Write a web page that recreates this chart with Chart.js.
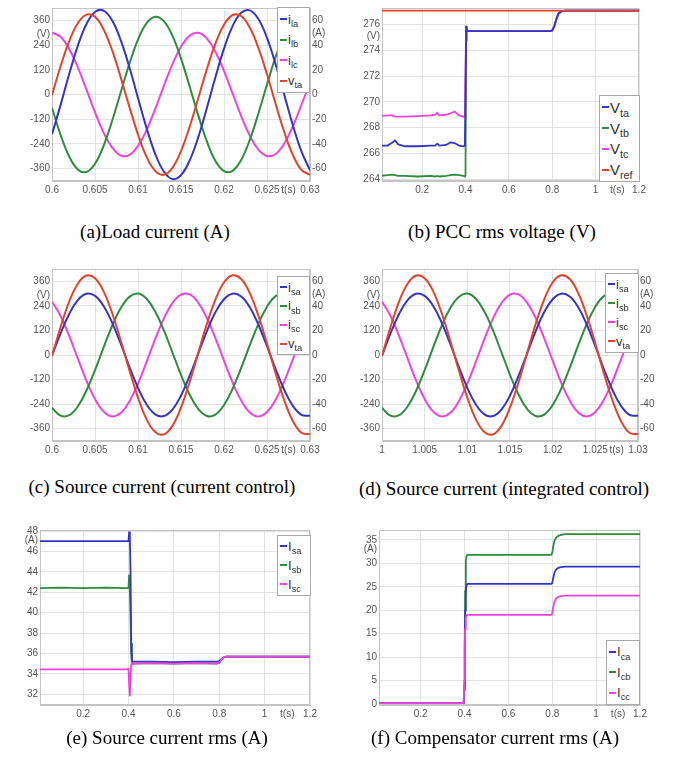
<!DOCTYPE html>
<html><head><meta charset="utf-8">
<script src="https://cdn.jsdelivr.net/npm/chart.js@4.4.1/dist/chart.umd.min.js"></script>
<style>
html,body{margin:0;padding:0;background:#fff;}
body{width:683px;height:770px;position:relative;overflow:hidden;}
.panel{position:absolute;}
.cap{position:absolute;width:400px;text-align:center;font-family:'Liberation Serif','Times New Roman',serif;font-size:19px;line-height:22px;color:#000;white-space:nowrap;}
.lg{position:absolute;background:#fff;border:1px solid #a8a8a8;box-sizing:border-box;display:flex;flex-direction:column;justify-content:space-around;padding:1px 0 1px 2px;font-family:'Liberation Sans',Arial,sans-serif;color:#333;}
.lg .row{display:flex;align-items:center;white-space:nowrap;line-height:1;}
.lg .mk{display:inline-block;width:7px;height:2px;margin-right:1px;}
.lg sub{font-size:0.72em;position:relative;top:0.35em;vertical-align:baseline;}
</style></head><body>

<canvas id="ca" class="panel" width="340" height="200" style="left:0;top:0"></canvas>
<canvas id="cb" class="panel" width="343" height="200" style="left:340px;top:0"></canvas>
<canvas id="cc" class="panel" width="340" height="200" style="left:0;top:260px"></canvas>
<canvas id="cd" class="panel" width="343" height="200" style="left:340px;top:260px"></canvas>
<canvas id="ce" class="panel" width="340" height="210" style="left:0;top:520px"></canvas>
<canvas id="cf" class="panel" width="343" height="210" style="left:340px;top:520px"></canvas>

<div class="cap" style="left:-45px;top:221px">(a)Load current (A)</div>
<div class="cap" style="left:302px;top:221px">(b) PCC rms voltage (V)</div>
<div class="cap" style="left:-38px;top:476px">(c) Source current (current control)</div>
<div class="cap" style="left:304px;top:478px">(d) Source current (integrated control)</div>
<div class="cap" style="left:-33px;top:727px">(e) Source current rms (A)</div>
<div class="cap" style="left:295px;top:727px">(f) Compensator current rms (A)</div>

<script>
// ---------- data ----------
const colBlue = '#3535c4', colGreen = '#2f8c3c', colMag = '#ee44dd', colRed = '#e0442c';

// (a) load current, t = 0.600 ... 0.630 s
const waveTimeA = [0.600,0.601,0.602,0.603,0.604,0.605,0.606,0.607,0.608,0.609,0.610,0.611,0.612,0.613,0.614,0.615,0.616,0.617,0.618,0.619,0.620,0.621,0.622,0.623,0.624,0.625,0.626,0.627,0.628,0.629,0.630];
const iLa = [-32.2,-8.4,16.6,39.4,56.9,66.8,67.8,59.8,43.8,22.0,-2.9,-27.2,-48.0,-62.3,-68.4,-65.3,-53.5,-34.7,-11.1,13.9,37.1,55.3,66.1,68.1,61.1,45.8,24.5,-0.1,-24.7,-46.0,-61.2];
const iLb = [-10.7,-32.7,-50.2,-60.6,-62.7,-56.0,-41.5,-21.2,2.0,24.9,44.4,57.7,62.9,59.4,47.6,29.2,6.7,-16.7,-37.8,-53.7,-62.0,-61.8,-52.9,-36.7,-15.4,8.1,30.4,48.5,59.9,62.9,57.1];
const iLc = [50.0,46.7,36.9,22.1,4.2,-14.3,-30.8,-43.0,-49.4,-48.9,-41.6,-28.7,-11.8,6.8,24.4,38.6,47.6,49.9,45.4,34.6,19.1,0.9,-17.4,-33.3,-44.6,-49.8,-48.1,-39.7,-25.9,-8.5,10.1];
const vTaA = [-3,137,259,346,388,377,316,214,82,-60,-194,-303,-371,-390,-356,-275,-157,-19,122,247,339,386,381,325,226,98,-45,-181,-293,-366,-390];

// (c)/(d) source current
const waveTimeD = [1.000,1.001,1.002,1.003,1.004,1.005,1.006,1.007,1.008,1.009,1.010,1.011,1.012,1.013,1.014,1.015,1.016,1.017,1.018,1.019,1.020,1.021,1.022,1.023,1.024,1.025,1.026,1.027,1.028,1.029,1.030];
const iSa = [-0.6,17.6,33.4,44.7,49.8,48.1,39.9,26.2,9.0,-9.6,-26.7,-40.3,-48.3,-49.7,-44.4,-33.0,-17.0,1.2,19.3,34.8,45.4,49.9,47.6,38.8,24.6,7.2,-11.4,-28.3,-41.3,-48.7,-49.5];
const iSb = [-43.0,-49.4,-49.0,-41.9,-29.1,-12.3,6.2,23.8,38.2,47.3,50.0,45.8,35.4,20.2,2.2,-16.1,-32.2,-43.9,-49.6,-48.5,-40.8,-27.5,-10.5,8.0,25.4,39.3,47.9,49.9,45.1,34.1,18.5];
const iSc = [43.6,31.8,15.6,-2.8,-20.8,-35.9,-46.1,-50.0,-47.1,-37.8,-23.3,-5.6,12.9,29.6,42.2,49.1,49.3,42.7,30.3,13.8,-4.6,-22.4,-37.1,-46.8,-50.0,-46.4,-36.5,-21.6,-3.8,14.6,31.0];
const vTaS = [-5,137,261,348,388,375,311,204,70,-74,-208,-314,-376,-388,-346,-257,-133,9,151,271,354,389,371,302,192,56,-89,-220,-322,-380,-386];

// (b) PCC rms voltage
const pccTime = [0.01,0.04,0.06,0.075,0.09,0.12,0.18,0.24,0.26,0.27,0.28,0.31,0.33,0.35,0.37,0.39,0.397,0.400,0.403,0.406,0.41,0.45,0.6,0.79,0.80,0.81,0.82,0.83,0.845,0.86,0.9,1.0,1.2];
const vTa = [266.6,266.6,266.8,267.0,266.7,266.55,266.55,266.6,266.6,266.75,266.6,266.65,266.85,266.8,266.6,266.55,266.6,270.5,275.9,275.6,275.5,275.5,275.5,275.5,275.55,275.9,276.5,276.9,277.05,277.1,277.1,277.1,277.1];
const vTb = [264.25,264.3,264.35,264.3,264.25,264.25,264.2,264.25,264.2,264.25,264.2,264.25,264.3,264.35,264.3,264.25,264.2,264.3,274.8,275.6,275.5,275.5,275.5,275.5,275.55,275.9,276.5,276.9,277.05,277.1,277.1,277.1,277.1];
const vTc = [268.9,268.95,268.95,268.85,268.85,268.85,268.9,268.95,269.0,269.15,268.95,269.0,269.1,269.25,268.95,268.85,268.9,272.5,275.7,275.6,275.5,275.5,275.5,275.5,275.55,275.9,276.5,276.9,277.05,277.1,277.1,277.1,277.1];
const vRef = [277.1,277.1,277.1,277.1,277.1,277.1,277.1,277.1,277.1,277.1,277.1,277.1,277.1,277.1,277.1,277.1,277.1,277.1,277.1,277.1,277.1,277.1,277.1,277.1,277.1,277.1,277.1,277.1,277.1,277.1,277.1,277.1,277.1];

// (e) source current rms
const srcTime = [0.01,0.1,0.2,0.3,0.39,0.400,0.403,0.406,0.409,0.412,0.415,0.42,0.5,0.6,0.7,0.79,0.80,0.81,0.82,0.83,0.85,0.9,1.0,1.2];
const iSaRms = [47.0,47.0,47.0,47.0,47.0,47.0,47.95,47.3,44.0,37.0,35.3,35.2,35.2,35.15,35.2,35.2,35.25,35.45,35.6,35.7,35.7,35.7,35.7,35.7];
const iSbRms = [42.4,42.45,42.4,42.45,42.4,42.45,43.7,42.2,39.5,36.0,35.0,35.0,35.05,35.0,35.05,35.0,35.1,35.4,35.6,35.7,35.7,35.7,35.7,35.7];
const iScRms = [34.45,34.45,34.45,34.45,34.45,34.5,33.0,31.8,34.0,34.9,35.0,35.0,35.05,35.0,35.05,35.0,35.1,35.4,35.6,35.7,35.7,35.7,35.7,35.7];

// (f) compensator current rms
const compTime = [0.01,0.2,0.396,0.399,0.401,0.403,0.406,0.41,0.415,0.5,0.6,0.7,0.795,0.80,0.805,0.81,0.815,0.82,0.83,0.84,0.86,0.9,1.0,1.2];
const iCa = [0.2,0.2,0.2,3,12,20,24.5,25.5,25.6,25.6,25.6,25.6,25.6,25.8,27.0,28.0,28.5,28.8,29.1,29.2,29.3,29.3,29.3,29.3];
const iCb = [0.2,0.2,0.2,4,14,24,30.5,31.7,31.8,31.8,31.8,31.8,31.8,32.2,33.8,34.8,35.3,35.6,35.9,36.05,36.2,36.2,36.2,36.2];
const iCc = [0.2,0.2,0.2,5,12,16,18.5,18.9,19.0,19.0,19.0,19.0,19.0,19.3,20.8,21.8,22.3,22.6,22.9,23.0,23.1,23.1,23.1,23.1];

// tick labels
const waveTicksA = [0.6,0.605,0.61,0.615,0.62,0.625,0.63];
const waveTicksD = [1,1.005,1.01,1.015,1.02,1.025,1.03];
const voltTicks = [-360,-240,-120,0,120,240,360];
const ampTicks = [-60,-40,-20,0,20,40,60];
const rmsTimeTicks = [0.2,0.4,0.6,0.8,1,1.2];
const pccTicks = [264,266,268,270,272,274,276];
const srcRmsTicks = [32,34,36,38,40,42,44,46,48];
const compTicks = [0,5,10,15,20,25,30,35];

// ---------- helpers ----------
const FONT = {family:"'Liberation Sans', Arial, sans-serif", size:10};
const TICKCOL = '#555';
const GRIDCOL = '#e3e3e3';

const framePlugin = {
  id:'frame',
  beforeDatasetsDraw(chart){
    const a = chart.chartArea, c = chart.ctx;
    c.save(); c.strokeStyle = '#c4c4c4'; c.lineWidth = 1;
    c.strokeRect(Math.round(a.left)+0.5, Math.round(a.top)+0.5, Math.round(a.width)-1, Math.round(a.height)-1);
    c.restore();
  }
};

function tickBuilder(values, extras){
  return function(scale){
    const all = values.map(v => ({value:v}));
    (extras||[]).forEach(e => all.push({value:e[0], extra:e[1]}));
    all.sort((p,q) => p.value - q.value);
    scale.ticks = all;
  };
}
function axis(o){
  return {
    type:'linear', position:o.pos, min:o.min, max:o.max,
    afterBuildTicks: tickBuilder(o.ticks, o.extra),
    afterFit: s => { if (o.w !== undefined) s.width = o.w; if (o.h !== undefined) s.height = o.h; },
    ticks:{autoSkip:false, maxRotation:0, minRotation:0, padding:o.pad===undefined?2:o.pad, color:TICKCOL, font:FONT,
      callback:(v,i,t) => (t[i] && t[i].extra) ? t[i].extra : String(v)},
    grid:{display:o.grid!==false, drawTicks:false, lineWidth:1,
      color: ctx => (ctx.tick && ctx.tick.extra) ? 'rgba(0,0,0,0)' : GRIDCOL},
    border:{display:true, color:'#c4c4c4'}
  };
}
function build(id, cfg){
  const datasets = cfg.series.map((s,i) => ({
    data: s.t.map((t,k) => ({x:t, y:s.v[k]})),
    borderColor:s.c, borderWidth:cfg.lw, pointRadius:0, tension:cfg.tension, fill:false,
    yAxisID: s.ax || 'y', order:i
  }));
  const scales = {x: cfg.x, y: cfg.y};
  if (cfg.y1) scales.y1 = cfg.y1;
  new Chart(document.getElementById(id), {
    type:'line',
    data:{datasets},
    options:{responsive:false, animation:false, devicePixelRatio:1, events:[],
      layout:{padding:{top:cfg.pt, right:cfg.pr||0, left:0, bottom:0}},
      plugins:{legend:{display:false}, tooltip:{enabled:false}},
      scales},
    plugins:[framePlugin]
  });
}
function legend(left, top, w, h, fs, items){
  const d = document.createElement('div');
  d.className = 'lg';
  d.style.cssText = `left:${left}px;top:${top}px;width:${w}px;height:${h}px;font-size:${fs}px;`;
  items.forEach(it => {
    const r = document.createElement('div'); r.className = 'row';
    r.innerHTML = `<span class="mk" style="background:${it[0]}"></span><span>${it[1]}<sub>${it[2]}</sub></span>`;
    d.appendChild(r);
  });
  document.body.appendChild(d);
}

// ---------- (a) ----------
build('ca', {pt:7, lw:2, tension:0.4,
  series:[{t:waveTimeA,v:vTaA,c:colRed},{t:waveTimeA,v:iLa,c:colBlue,ax:'y1'},{t:waveTimeA,v:iLb,c:colGreen,ax:'y1'},{t:waveTimeA,v:iLc,c:colMag,ax:'y1'}],
  x: axis({pos:'bottom', min:0.6, max:0.63, ticks:waveTicksA, extra:[[0.6275,'t(s)']], h:19, pad:3}),
  y: axis({pos:'left', min:-420, max:420, ticks:voltTicks, extra:[[291,'(V)']], w:52}),
  y1: axis({pos:'right', min:-70, max:70, ticks:ampTicks, extra:[[49.5,'(A)']], w:30, grid:false})
});
// ---------- (b) ----------
build('cb', {pt:7, pr:44, lw:1.8, tension:0,
  series:[{t:pccTime,v:vRef,c:colRed},{t:pccTime,v:vTa,c:colBlue},{t:pccTime,v:vTc,c:colMag},{t:pccTime,v:vTb,c:colGreen}],
  x: axis({pos:'bottom', min:0.015, max:1.2, ticks:rmsTimeTicks, extra:[[1.1,'t(s)']], h:19, pad:3}),
  y: axis({pos:'left', min:263.85, max:277.3, ticks:pccTicks, extra:[[275.1,'(V)']], w:42})
});
// ---------- (c) ----------
build('cc', {pt:9, lw:2, tension:0.4,
  series:[{t:waveTimeA,v:vTaS,c:colRed},{t:waveTimeA,v:iSa,c:colBlue,ax:'y1'},{t:waveTimeA,v:iSb,c:colGreen,ax:'y1'},{t:waveTimeA,v:iSc,c:colMag,ax:'y1'}],
  x: axis({pos:'bottom', min:0.6, max:0.63, ticks:waveTicksA, extra:[[0.6275,'t(s)']], h:19, pad:3}),
  y: axis({pos:'left', min:-420, max:420, ticks:voltTicks, extra:[[291,'(V)']], w:52}),
  y1: axis({pos:'right', min:-70, max:70, ticks:ampTicks, extra:[[49.5,'(A)']], w:30, grid:false})
});
// ---------- (d) ----------
build('cd', {pt:9, lw:2, tension:0.4,
  series:[{t:waveTimeD,v:vTaS,c:colRed},{t:waveTimeD,v:iSa,c:colBlue,ax:'y1'},{t:waveTimeD,v:iSb,c:colGreen,ax:'y1'},{t:waveTimeD,v:iSc,c:colMag,ax:'y1'}],
  x: axis({pos:'bottom', min:1.0, max:1.03, ticks:waveTicksD, extra:[[1.0275,'t(s)']], h:19, pad:3}),
  y: axis({pos:'left', min:-420, max:420, ticks:voltTicks, extra:[[291,'(V)']], w:42}),
  y1: axis({pos:'right', min:-70, max:70, ticks:ampTicks, extra:[[49.5,'(A)']], w:45, grid:false})
});
// ---------- (e) ----------
build('ce', {pt:10, pr:30, lw:1.8, tension:0,
  series:[{t:srcTime,v:iScRms,c:colMag},{t:srcTime,v:iSaRms,c:colBlue},{t:srcTime,v:iSbRms,c:colGreen}],
  x: axis({pos:'bottom', min:0.01, max:1.2, ticks:rmsTimeTicks, extra:[[1.1,'t(s)']], h:25, pad:3}),
  y: axis({pos:'left', min:30.95, max:48.1, ticks:srcRmsTicks, extra:[[47.1,'(A)']], w:40})
});
// ---------- (f) ----------
build('cf', {pt:10, pr:43, lw:1.8, tension:0,
  series:[{t:compTime,v:iCc,c:colMag},{t:compTime,v:iCa,c:colBlue},{t:compTime,v:iCb,c:colGreen}],
  x: axis({pos:'bottom', min:0.01, max:1.2, ticks:rmsTimeTicks, extra:[[1.1,'t(s)']], h:25, pad:3}),
  y: axis({pos:'left', min:-0.2, max:37.1, ticks:compTicks, extra:[[32.9,'(A)']], w:39})
});

// ---------- legends ----------
legend(277, 7, 33, 86, 13, [[colBlue,'i','la'],[colGreen,'i','lb'],[colMag,'i','lc'],[colRed,'v','ta']]);
legend(599, 95, 41, 87, 15, [[colBlue,'V','ta'],[colGreen,'V','tb'],[colMag,'V','tc'],[colRed,'V','ref']]);
legend(277, 276, 33, 79, 13, [[colBlue,'i','sa'],[colGreen,'i','sb'],[colMag,'i','sc'],[colRed,'v','ta']]);
legend(605, 273, 34, 80, 13, [[colBlue,'i','sa'],[colGreen,'i','sb'],[colMag,'i','sc'],[colRed,'v','ta']]);
legend(277, 535, 34, 61, 13, [[colBlue,'I','sa'],[colGreen,'I','sb'],[colMag,'I','sc']]);
legend(606, 640, 34, 65, 13, [[colBlue,'I','ca'],[colGreen,'I','cb'],[colMag,'I','cc']]);
</script>
</body></html>
